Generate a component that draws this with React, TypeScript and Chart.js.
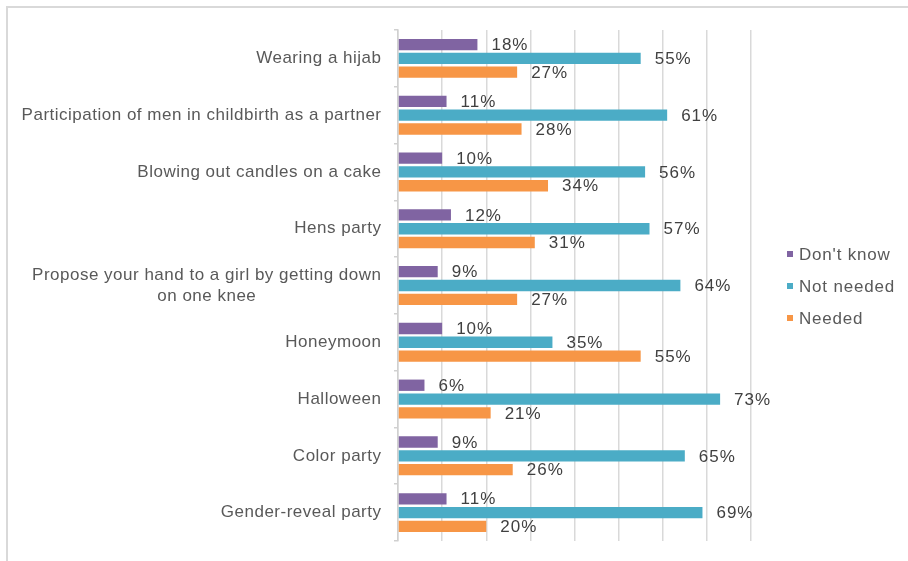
import React, { useEffect, useRef } from 'react';
import { Chart, registerables } from 'chart.js';

Chart.register(...registerables);

const categories: (string | string[])[] = [
  'Wearing a hijab',
  'Participation of men in childbirth as a partner',
  'Blowing out candles on a cake',
  'Hens party',
  ['Propose your hand to a girl by getting down', 'on one knee'],
  'Honeymoon',
  'Halloween',
  'Color party',
  'Gender-reveal party',
];
const dontKnow = [18, 11, 10, 12, 9, 10, 6, 9, 11];
const notNeeded = [55, 61, 56, 57, 64, 35, 73, 65, 69];
const needed = [27, 28, 34, 31, 27, 55, 21, 26, 20];
const seriesNames = ["Don't know", 'Not needed', 'Needed'];
const seriesColors = ['#8064A2', '#4BACC6', '#F79646'];
const xMin = 0;
const xMax = 80;
const xStep = 10;

const FONT = '"Liberation Sans", Arial, sans-serif';

const textPlugin = {
  id: 'customText',
  afterDatasetsDraw(chart: any) {
    const ctx = chart.ctx as CanvasRenderingContext2D;
    ctx.save();
    (ctx as any).letterSpacing = '1px';
    ctx.font = `17px ${FONT}`;
    ctx.fillStyle = '#404040';
    ctx.textBaseline = 'middle';
    ctx.textAlign = 'left';
    chart.data.datasets.forEach((ds: any, i: number) => {
      const meta = chart.getDatasetMeta(i);
      meta.data.forEach((bar: any, j: number) => {
        ctx.fillText(`${ds.data[j]}%`, bar.x + 14, bar.y + 1);
      });
    });
    ctx.restore();
  },
  afterDraw(chart: any) {
    const ctx = chart.ctx as CanvasRenderingContext2D;
    const yScale = chart.scales.y;
    const area = chart.chartArea;
    ctx.save();
    (ctx as any).letterSpacing = '0.5px';
    ctx.font = `17px ${FONT}`;
    ctx.fillStyle = '#595959';
    ctx.textBaseline = 'middle';
    ctx.textAlign = 'left';
    const right = area.left - 16.5;
    categories.forEach((c, i) => {
      const cy = yScale.getPixelForTick(i);
      const lines = Array.isArray(c) ? c : [c];
      const widths = lines.map((l) => ctx.measureText(l).width);
      const w = Math.max(...widths);
      lines.forEach((l, k) => {
        const ly = cy + (k - (lines.length - 1) / 2) * 21;
        ctx.fillText(l, right - w / 2 - widths[k] / 2, ly);
      });
    });
    // legend
    (ctx as any).letterSpacing = '0.8px';
    const lx = area.right + 36;
    const centers = [246, 278, 310];
    chart.data.datasets.forEach((ds: any, i: number) => {
      const cy = centers[i];
      ctx.fillStyle = ds.backgroundColor;
      ctx.fillRect(lx, cy - 3, 6, 6);
      ctx.fillStyle = '#595959';
      ctx.fillText(ds.label, lx + 12, cy + 1);
    });
    ctx.restore();
  },
};

export default function App() {
  const ref = useRef<HTMLCanvasElement>(null);
  useEffect(() => {
    if (!ref.current) return;
    const chart = new Chart(ref.current, {
      type: 'bar',
      data: {
        labels: categories as any,
        datasets: [dontKnow, notNeeded, needed].map((d, i) => ({
          label: seriesNames[i],
          data: d,
          backgroundColor: seriesColors[i],
          borderWidth: 0,
          categoryPercentage: 0.73,
          barPercentage: 0.82,
        })),
      },
      options: {
        indexAxis: 'y',
        responsive: false,
        animation: false,
        devicePixelRatio: 1,
        layout: { padding: { top: 22, bottom: 0, left: 0, right: 157 } },
        plugins: {
          legend: { display: false },
          tooltip: { enabled: false },
        },
        scales: {
          x: {
            min: xMin,
            max: xMax,
            ticks: { display: false, stepSize: xStep },
            grid: { color: '#d9d9d9', lineWidth: 1.5, drawTicks: false },
            border: { display: false },
            afterFit: (s: any) => {
              s.height = 20;
            },
          },
          y: {
            ticks: { display: false },
            grid: {
              drawOnChartArea: false,
              drawTicks: true,
              tickLength: 4,
              color: '#d0d0d0',
              lineWidth: 1.5,
            },
            border: { display: true, color: '#d0d0d0', width: 1.5 },
            afterFit: (s: any) => {
              s.width = 390;
            },
          },
        },
      } as any,
      plugins: [textPlugin],
    });
    return () => chart.destroy();
  }, []);

  return (
    <div
      style={{
        position: 'fixed',
        left: 0,
        top: 0,
        width: 908,
        height: 561,
        overflow: 'hidden',
        background: '#fff',
      }}
    >
      <div
        style={{
          position: 'absolute',
          left: 6,
          top: 6,
          width: 1000,
          height: 1000,
          border: '2px solid #d9d9d9',
        }}
      />
      <div style={{ position: 'absolute', left: 8, top: 8, width: 900, height: 553 }}>
        <canvas ref={ref} width={900} height={553} style={{ display: 'block' }} />
      </div>
    </div>
  );
}
